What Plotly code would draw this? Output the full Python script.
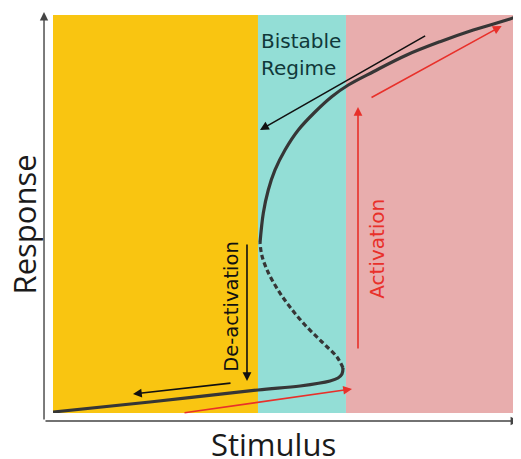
import plotly.graph_objects as go

# ---- data (stimulus / response in arbitrary units 0..10) ----
regions = ["Monostable low", "Bistable", "Monostable high"]
region_start = [0.0, 4.38, 6.26]
region_end = [4.38, 6.26, 10.0]
region_colors = ["#F9C511", "#93DED6", "#E8ADAD"]

lower_x = [0.0, 2.07, 4.38, 5.28, 5.92, 6.09, 6.175, 6.197]
lower_y = [0.025, 0.276, 0.578, 0.678, 0.804, 0.879, 0.98, 1.131]

unstable_x = [6.197, 6.068, 5.748, 5.385, 5.064, 4.808, 4.594, 4.466, 4.423]
unstable_y = [1.131, 1.407, 1.784, 2.211, 2.663, 3.09, 3.543, 3.945, 4.271]

upper_x = [4.423, 4.494, 4.600, 4.744, 4.957, 5.241, 5.598, 5.955, 6.310,
           6.844, 7.558, 8.269, 8.981, 9.694, 10.0]
upper_y = [4.271, 5.025, 5.603, 6.106, 6.608, 7.111, 7.563, 7.947, 8.241,
           8.575, 8.995, 9.329, 9.623, 9.874, 10.0]

# arrows: (head_x, head_y, tail_x, tail_y, color)
arrows = [
    (4.423, 7.111, 7.984, 9.497, "#111111"),   # bistable, going down
    (9.587, 9.724, 6.774, 7.907, "#E8302A"),   # upper, activation
    (6.517, 7.688, 6.517, 1.583, "#E8302A"),   # vertical activation jump
    (4.145, 0.804, 4.145, 4.271, "#111111"),   # vertical de-activation jump
    (1.709, 0.477, 3.825, 0.754, "#111111"),   # lower, de-activation
    (6.389, 0.603, 2.778, 0.0, "#E8302A"),     # lower, activation
]

fig = go.Figure()

for x0, x1, c in zip(region_start, region_end, region_colors):
    fig.add_shape(type="rect", xref="x", yref="y", x0=x0, x1=x1, y0=0, y1=10,
                  fillcolor=c, line=dict(width=0), layer="below")

line_col = "#363636"
fig.add_trace(go.Scatter(x=lower_x, y=lower_y, mode="lines",
                         line=dict(color=line_col, width=3.2, shape="spline"),
                         hoverinfo="skip", showlegend=False))
fig.add_trace(go.Scatter(x=unstable_x, y=unstable_y, mode="lines",
                         line=dict(color=line_col, width=3.2, shape="spline", dash="5px,3px"),
                         hoverinfo="skip", showlegend=False))
fig.add_trace(go.Scatter(x=upper_x, y=upper_y, mode="lines",
                         line=dict(color=line_col, width=3.2, shape="spline"),
                         hoverinfo="skip", showlegend=False))

for hx, hy, tx, ty, col in arrows:
    fig.add_annotation(x=hx, y=hy, ax=tx, ay=ty, xref="x", yref="y",
                       axref="x", ayref="y", text="", showarrow=True,
                       arrowhead=2, arrowsize=1.1, arrowwidth=1.6, arrowcolor=col,
                       standoff=0, startstandoff=0)

# axis lines with arrowheads (paper coords, outside the coloured plot area)
axis_col = "#444444"
fig.add_annotation(x=-0.0192, y=1.0075, xref="paper", yref="paper",
                   ax=0, ay=409, axref="pixel", ayref="pixel", text="",
                   showarrow=True, arrowhead=2, arrowsize=1.2, arrowwidth=1.4,
                   arrowcolor=axis_col, standoff=0, startstandoff=0)
fig.add_annotation(x=0.9957, y=-0.0201, xref="paper", yref="paper",
                   ax=-475, ay=0, axref="pixel", ayref="pixel", text="",
                   showarrow=True, arrowhead=2, arrowsize=1.2, arrowwidth=1.4,
                   arrowcolor=axis_col, standoff=0, startstandoff=0)

# texts
fig.add_annotation(x=4.40, y=9.347, xref="x", yref="y", text="Bistable",
                   showarrow=False, xanchor="left", yanchor="middle",
                   font=dict(family="DejaVu Sans", size=20, color="#10393A"))
fig.add_annotation(x=4.40, y=8.668, xref="x", yref="y", text="Regime",
                   showarrow=False, xanchor="left", yanchor="middle",
                   font=dict(family="DejaVu Sans", size=20, color="#10393A"))
fig.add_annotation(x=6.92, y=4.121, xref="x", yref="y", text="Activation",
                   showarrow=False, textangle=-90, xanchor="center", yanchor="middle",
                   font=dict(family="DejaVu Sans", size=20, color="#E8302A"))
fig.add_annotation(x=3.80, y=2.688, xref="x", yref="y", text="De-activation",
                   showarrow=False, textangle=-90, xanchor="center", yanchor="middle",
                   font=dict(family="DejaVu Sans", size=19.5, color="#111111"))
fig.add_annotation(x=-0.0630, y=0.4724, xref="paper", yref="paper", text="Response",
                   showarrow=False, textangle=-90, xanchor="center", yanchor="middle",
                   borderpad=0,
                   font=dict(family="Open Sans", size=31, color="#1a1a1a"))
fig.add_annotation(x=0.4701, y=-0.0790, xref="paper", yref="paper", text="Stimulus",
                   showarrow=False, xanchor="center", yanchor="middle",
                   borderpad=0,
                   font=dict(family="Open Sans", size=31, color="#1a1a1a"))

fig.update_xaxes(range=[0, 10], showgrid=False, zeroline=False, showticklabels=False,
                 ticks="", showline=False, fixedrange=True)
fig.update_yaxes(range=[0, 10], showgrid=False, zeroline=False, showticklabels=False,
                 ticks="", showline=False, fixedrange=True)
fig.update_layout(width=513, height=451, margin=dict(l=45, r=0, t=7, b=46),
                  paper_bgcolor="white", plot_bgcolor="white", showlegend=False)

fig.write_html("out.html")
